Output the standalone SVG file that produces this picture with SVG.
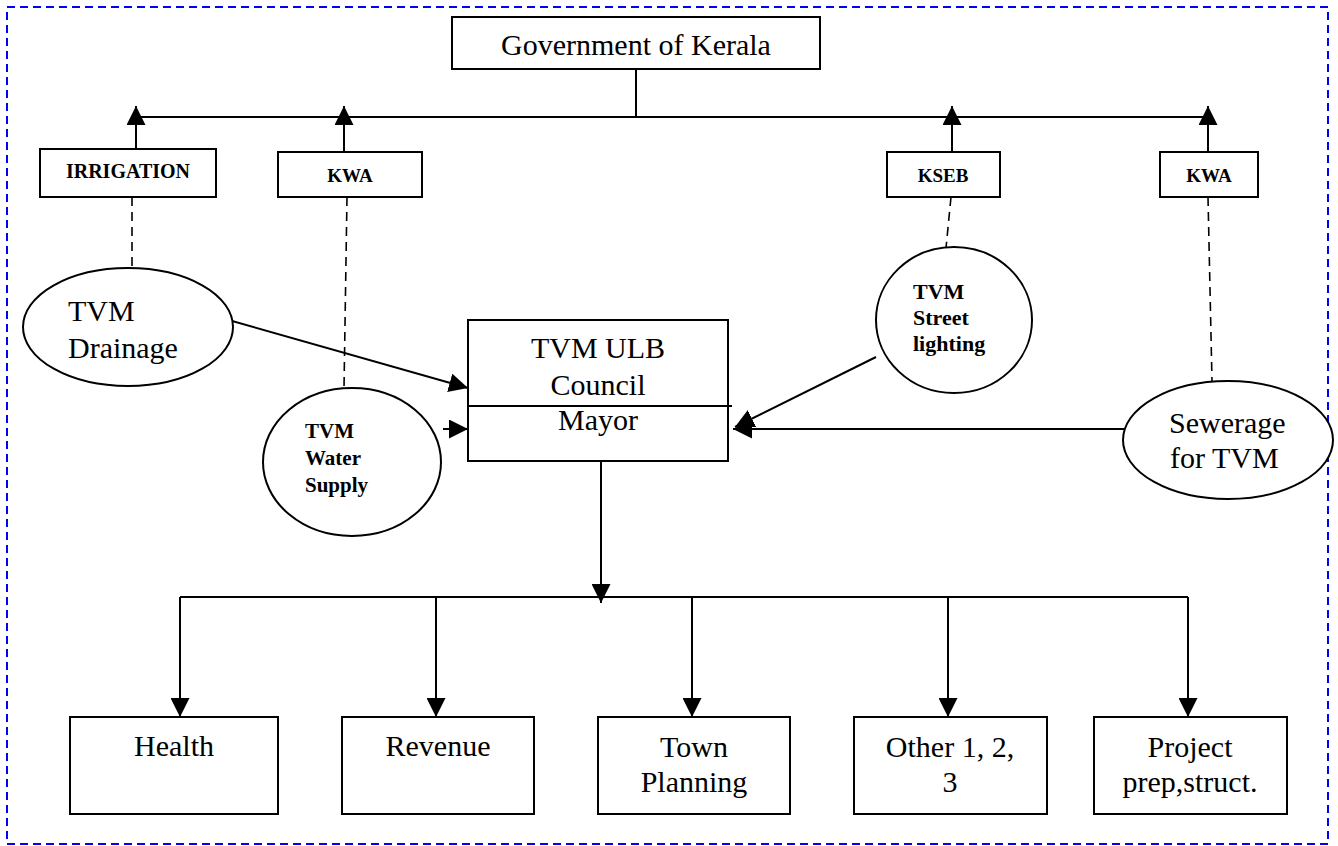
<svg xmlns="http://www.w3.org/2000/svg" width="1338" height="846" viewBox="0 0 1338 846">
<style>
.box{fill:#fff;stroke:#000;stroke-width:2}
.ell{fill:#fff;stroke:#000;stroke-width:2}
.ln{fill:none;stroke:#000;stroke-width:2}
.arr{fill:none;stroke:#000;stroke-width:2;marker-end:url(#ah)}
.dash{fill:none;stroke:#000;stroke-width:1.6;stroke-dasharray:9 6}
.t{font-family:"Liberation Serif","Times New Roman",serif;font-size:30px;fill:#000}
.tm{text-anchor:middle}
.b{font-family:"Liberation Serif","Times New Roman",serif;font-weight:bold;fill:#000}
</style>
<defs>
<marker id="ah" markerUnits="userSpaceOnUse" markerWidth="19" markerHeight="19" refX="19" refY="9.5" orient="auto">
<path d="M0,0 L19,9.5 L0,19 z" fill="#000"/>
</marker>
</defs>
<rect x="7" y="7" width="1321" height="837" fill="none" stroke="#0000ff" stroke-width="2" stroke-dasharray="8 5"/>
<g id="connectors">
<line class="ln" x1="636" y1="69" x2="636" y2="117"/>
<line class="ln" x1="136" y1="117" x2="1208" y2="117"/>
<line class="arr" x1="136" y1="149" x2="136" y2="106"/>
<line class="arr" x1="344" y1="152" x2="344" y2="106"/>
<line class="arr" x1="952" y1="152" x2="952" y2="106"/>
<line class="arr" x1="1208" y1="152" x2="1208" y2="106"/>
<line class="dash" x1="132" y1="197" x2="132" y2="268"/>
<line class="dash" x1="347" y1="197" x2="344" y2="388"/>
<line class="dash" x1="951" y1="197" x2="946" y2="248"/>
<line class="dash" x1="1208" y1="197" x2="1212" y2="381"/>
<line class="arr" x1="218" y1="317" x2="468" y2="388"/>
<line class="arr" x1="443" y1="429" x2="468" y2="429"/>
<line class="arr" x1="876" y1="357" x2="735" y2="427"/>
<line class="arr" x1="1124" y1="429" x2="733" y2="429"/>
<line class="arr" x1="601" y1="461" x2="601" y2="603"/>
<line class="ln" x1="180" y1="597" x2="1188" y2="597"/>
<line class="arr" x1="180" y1="597" x2="180" y2="717"/>
<line class="arr" x1="436" y1="597" x2="436" y2="717"/>
<line class="arr" x1="692" y1="597" x2="692" y2="717"/>
<line class="arr" x1="948" y1="597" x2="948" y2="717"/>
<line class="arr" x1="1188" y1="597" x2="1188" y2="717"/>
</g>
<g id="gov">
<rect class="box" x="452" y="17" width="368" height="52"/>
<text class="t tm" x="636" y="55">Government of Kerala</text>
</g>
<g id="irrigation">
<rect class="box" x="40" y="149" width="176" height="48"/>
<text class="b tm" x="128" y="178" font-size="20">IRRIGATION</text>
</g>
<g id="kwa1">
<rect class="box" x="278" y="152" width="144" height="45"/>
<text class="b tm" x="350" y="182" font-size="19">KWA</text>
</g>
<g id="kseb">
<rect class="box" x="887" y="152" width="113" height="45"/>
<text class="b tm" x="943" y="182" font-size="19">KSEB</text>
</g>
<g id="kwa2">
<rect class="box" x="1160" y="152" width="98" height="45"/>
<text class="b tm" x="1209" y="182" font-size="19">KWA</text>
</g>
<g id="drainage">
<ellipse class="ell" cx="128" cy="327" rx="105" ry="59"/>
<text class="t" x="68" y="321">TVM</text>
<text class="t" x="68" y="358">Drainage</text>
</g>
<g id="water">
<ellipse class="ell" cx="352" cy="462" rx="89" ry="74"/>
<text class="b" x="305" y="438" font-size="21">TVM</text>
<text class="b" x="305" y="465" font-size="21">Water</text>
<text class="b" x="305" y="492" font-size="21">Supply</text>
</g>
<g id="ulb">
<rect class="box" x="468" y="320" width="260" height="141"/>
<line class="ln" x1="468" y1="406" x2="732" y2="406"/>
<text class="t tm" x="598" y="358">TVM ULB</text>
<text class="t tm" x="598" y="395">Council</text>
<text class="t tm" x="598" y="430">Mayor</text>
</g>
<g id="street">
<ellipse class="ell" cx="954" cy="320" rx="78" ry="73"/>
<text class="b" x="913" y="299" font-size="22">TVM</text>
<text class="b" x="913" y="325" font-size="22">Street</text>
<text class="b" x="913" y="351" font-size="22">lighting</text>
</g>
<g id="sewerage">
<ellipse class="ell" cx="1228" cy="440" rx="105" ry="59"/>
<text class="t" x="1169" y="433">Sewerage</text>
<text class="t" x="1170" y="468">for TVM</text>
</g>
<g id="health">
<rect class="box" x="70" y="717" width="208" height="97"/>
<text class="t tm" x="174" y="756">Health</text>
</g>
<g id="revenue">
<rect class="box" x="342" y="717" width="192" height="97"/>
<text class="t tm" x="438" y="756">Revenue</text>
</g>
<g id="town">
<rect class="box" x="598" y="717" width="192" height="97"/>
<text class="t tm" x="694" y="757">Town</text>
<text class="t tm" x="694" y="792">Planning</text>
</g>
<g id="other">
<rect class="box" x="854" y="717" width="193" height="97"/>
<text class="t tm" x="950" y="757">Other 1, 2,</text>
<text class="t tm" x="950" y="792">3</text>
</g>
<g id="project">
<rect class="box" x="1094" y="717" width="193" height="97"/>
<text class="t tm" x="1190" y="757">Project</text>
<text class="t tm" x="1190" y="792">prep,struct.</text>
</g>
</svg>
